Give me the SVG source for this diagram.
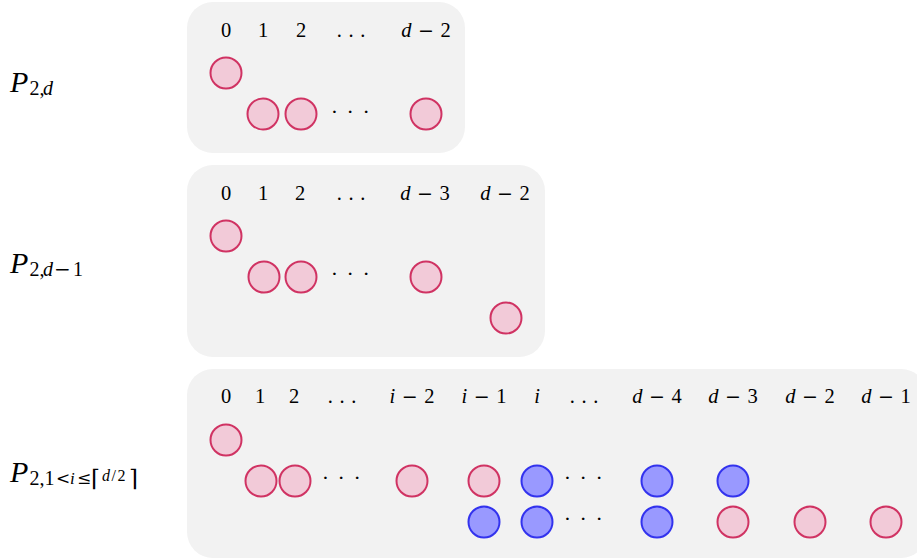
<svg xmlns="http://www.w3.org/2000/svg" width="917" height="559" viewBox="0 0 917 559">
<style>
  .box { fill: #f2f2f2; stroke: none; }
  .pk { fill: #f2cad8; stroke: #d03363; stroke-width: 2; }
  .bl { fill: #9999ff; stroke: #3333ee; stroke-width: 2; }
  text { font-family: "Liberation Serif", "DejaVu Serif", serif; fill: #000; }
  .lab { font-size: 20.5px; text-anchor: middle; word-spacing: 1.5px; }
  .it { font-style: italic; }
  .m { font-family: "DejaVu Serif", serif; font-size: 19px; }
  .dots { font-size: 22px; text-anchor: middle; letter-spacing: 1.5px; }
  .P { font-size: 30px; }
  .sub { font-size: 20px; }
  .subm { font-family: "DejaVu Serif", serif; font-size: 17px; }
  .sub2 { font-size: 16px; letter-spacing: 1.5px; }
  .ceil { font-family: "DejaVu Serif", serif; font-size: 23px; }
</style>
<rect width="917" height="559" fill="#ffffff"/>

<g id="panel1">
  <rect class="box" x="187" y="2" width="278" height="151" rx="26"/>
  <text class="P" y="92"><tspan class="it" x="10">P</tspan><tspan class="sub" x="29.5" y="95">2,</tspan><tspan class="sub it" x="43" y="95">d</tspan></text>
  <text class="lab" x="226" y="37">0</text>
  <text class="lab" x="263" y="37">1</text>
  <text class="lab" x="301" y="37">2</text>
  <text class="lab" x="351" y="37">. . .</text>
  <text class="lab" x="426" y="37"><tspan class="it">d</tspan> <tspan class="m">−</tspan> 2</text>
  <g id="p1-n0"><circle class="pk" cx="226" cy="73" r="15.5"/></g>
  <g id="p1-n1"><circle class="pk" cx="263" cy="114" r="15.5"/></g>
  <g id="p1-n2"><circle class="pk" cx="301" cy="114" r="15.5"/></g>
  <text class="dots" x="351" y="119">· · ·</text>
  <g id="p1-n3"><circle class="pk" cx="426" cy="114" r="15.5"/></g>
</g>

<g id="panel2">
  <rect class="box" x="187" y="165" width="358" height="192" rx="26"/>
  <text class="P" y="273"><tspan class="it" x="10">P</tspan><tspan class="sub" x="29.5" y="276">2,</tspan><tspan class="sub it" x="43" y="276">d</tspan><tspan class="subm" x="54" y="276" style="font-size:20px">−</tspan><tspan class="sub" x="73" y="276">1</tspan></text>
  <text class="lab" x="226" y="200">0</text>
  <text class="lab" x="263" y="200">1</text>
  <text class="lab" x="300" y="200">2</text>
  <text class="lab" x="351" y="200">. . .</text>
  <text class="lab" x="425" y="200"><tspan class="it">d</tspan> <tspan class="m">−</tspan> 3</text>
  <text class="lab" x="505" y="200"><tspan class="it">d</tspan> <tspan class="m">−</tspan> 2</text>
  <g id="p2-n0"><circle class="pk" cx="226" cy="236" r="15.5"/></g>
  <g id="p2-n1"><circle class="pk" cx="264" cy="277" r="15.5"/></g>
  <g id="p2-n2"><circle class="pk" cx="301" cy="277" r="15.5"/></g>
  <text class="dots" x="351" y="281">· · ·</text>
  <g id="p2-n3"><circle class="pk" cx="426" cy="277" r="15.5"/></g>
  <g id="p2-n4"><circle class="pk" cx="506" cy="318" r="15.5"/></g>
</g>

<g id="panel3">
  <rect class="box" x="187" y="369" width="740" height="189" rx="26"/>
  <text class="P" y="482"><tspan class="it" x="10">P</tspan><tspan class="sub" x="29.5" y="485">2,1</tspan><tspan class="subm" x="56" y="484">&lt;</tspan><tspan class="sub it" x="70" y="484" style="font-size:17px">i</tspan><tspan class="subm" x="77" y="484">≤</tspan><tspan class="ceil" x="91" y="486">⌈</tspan><tspan class="sub2" x="102" y="481"><tspan class="it">d</tspan>/2</tspan><tspan class="ceil" x="129" y="486">⌉</tspan></text>
  <text class="lab" x="226" y="403">0</text>
  <text class="lab" x="260" y="403">1</text>
  <text class="lab" x="294" y="403">2</text>
  <text class="lab" x="342" y="403">. . .</text>
  <text class="lab" x="412" y="403"><tspan class="it">i</tspan> <tspan class="m">−</tspan> 2</text>
  <text class="lab" x="484" y="403"><tspan class="it">i</tspan> <tspan class="m">−</tspan> 1</text>
  <text class="lab it" x="537" y="403">i</text>
  <text class="lab" x="584" y="403">. . .</text>
  <text class="lab" x="657" y="403"><tspan class="it">d</tspan> <tspan class="m">−</tspan> 4</text>
  <text class="lab" x="733" y="403"><tspan class="it">d</tspan> <tspan class="m">−</tspan> 3</text>
  <text class="lab" x="810" y="403"><tspan class="it">d</tspan> <tspan class="m">−</tspan> 2</text>
  <text class="lab" x="886" y="403"><tspan class="it">d</tspan> <tspan class="m">−</tspan> 1</text>

  <g id="p3-r1-0"><circle class="pk" cx="226" cy="440" r="15.5"/></g>

  <g id="p3-r2-1"><circle class="pk" cx="261" cy="481" r="15.5"/></g>
  <g id="p3-r2-2"><circle class="pk" cx="295" cy="481" r="15.5"/></g>
  <text class="dots" x="342" y="485">· · ·</text>
  <g id="p3-r2-i2"><circle class="pk" cx="412" cy="481" r="15.5"/></g>
  <g id="p3-r2-i1"><circle class="pk" cx="484" cy="481" r="15.5"/></g>
  <g id="p3-r2-i"><circle class="bl" cx="537" cy="481" r="15.5"/></g>
  <text class="dots" x="584" y="485">· · ·</text>
  <g id="p3-r2-d4"><circle class="bl" cx="657" cy="481" r="15.5"/></g>
  <g id="p3-r2-d3"><circle class="bl" cx="733" cy="481" r="15.5"/></g>

  <g id="p3-r3-i1"><circle class="bl" cx="484" cy="522" r="15.5"/></g>
  <g id="p3-r3-i"><circle class="bl" cx="537" cy="522" r="15.5"/></g>
  <text class="dots" x="584" y="526">· · ·</text>
  <g id="p3-r3-d4"><circle class="bl" cx="657" cy="522" r="15.5"/></g>
  <g id="p3-r3-d3"><circle class="pk" cx="733" cy="522" r="15.5"/></g>
  <g id="p3-r3-d2"><circle class="pk" cx="810" cy="522" r="15.5"/></g>
  <g id="p3-r3-d1"><circle class="pk" cx="886" cy="522" r="15.5"/></g>
</g>

<g id="connectors"></g>
</svg>
